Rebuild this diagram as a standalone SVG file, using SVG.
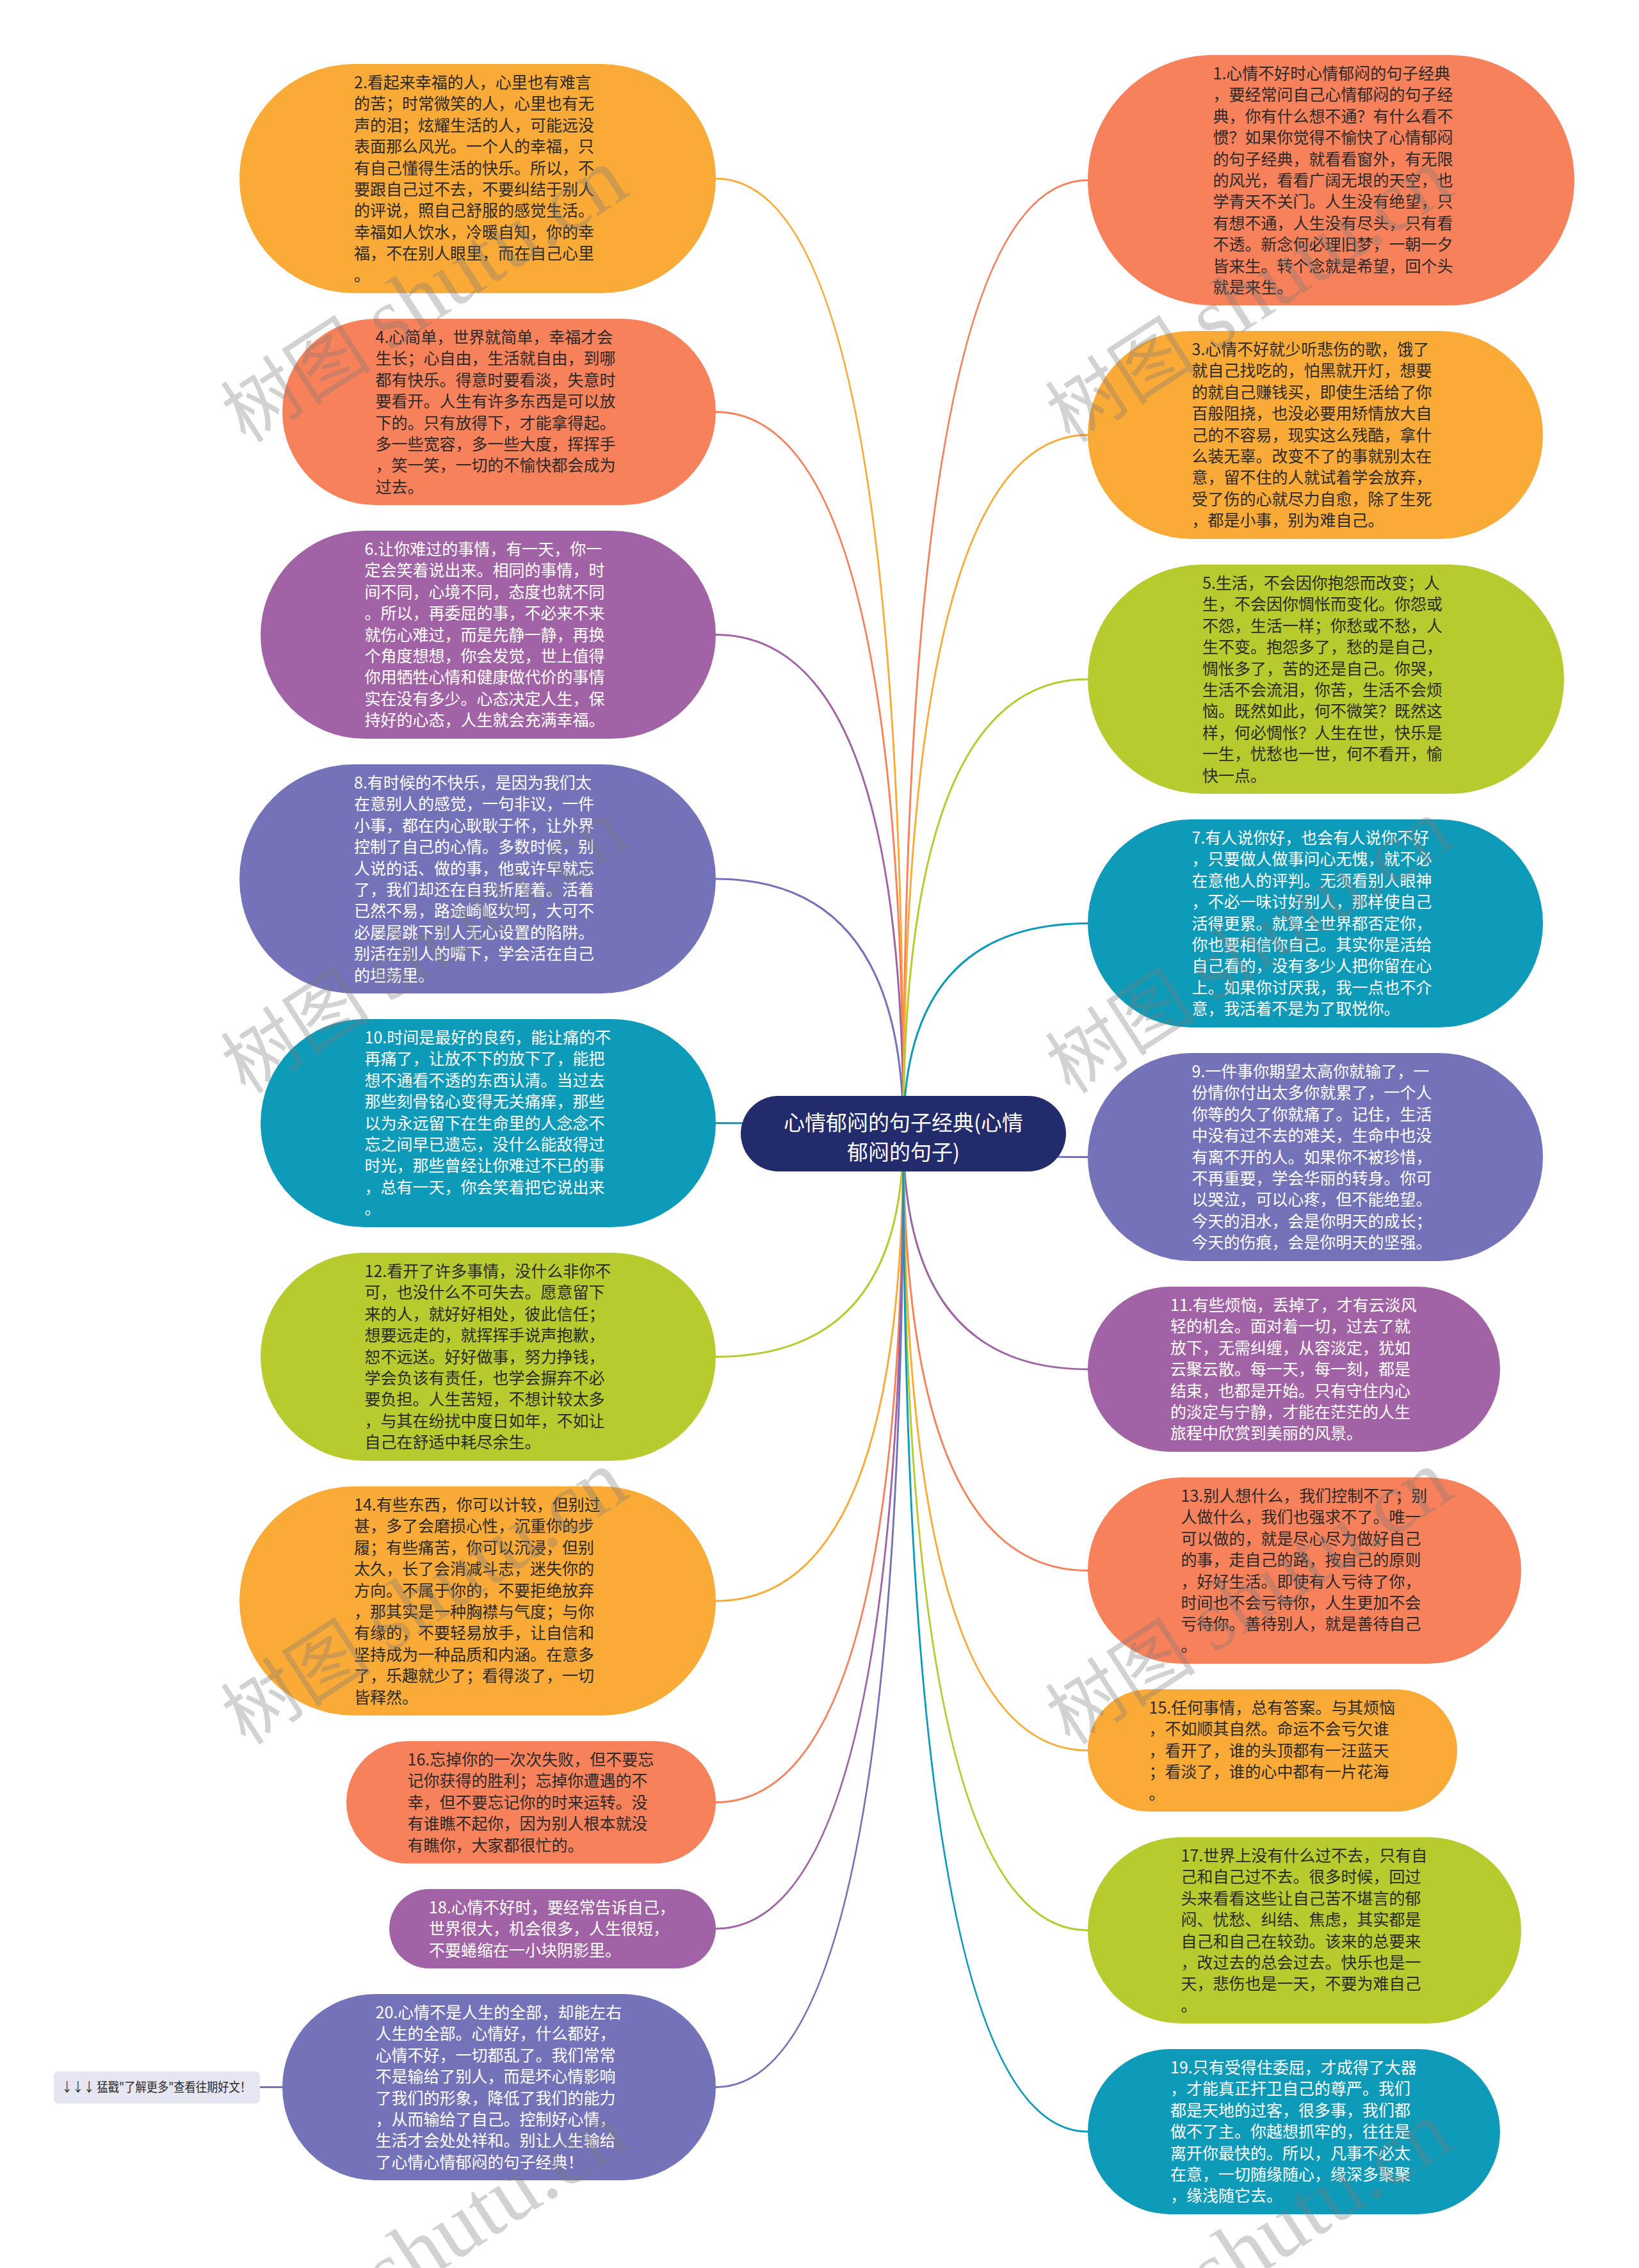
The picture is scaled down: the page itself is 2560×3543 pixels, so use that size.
<svg xmlns="http://www.w3.org/2000/svg" width="2560" height="3543" viewBox="0 0 2560 3543">
<style>
.t{font-family:"Noto Sans CJK SC","Noto Sans",sans-serif;font-size:25px}
.d{fill:#2a2a2a}
.w{fill:#ffffff}
.cn{fill:none;stroke-width:3}
.coral{fill:#F7815B}.yellow{fill:#FAAB37}.purple{fill:#A263A6}.indigo{fill:#7473B9}.teal{fill:#0D9BB9}.lime{fill:#B7CB2E}
.s-coral{stroke:#F7815B}.s-yellow{stroke:#FAAB37}.s-purple{stroke:#A263A6}.s-indigo{stroke:#7473B9}.s-teal{stroke:#0D9BB9}.s-lime{stroke:#B7CB2E}
.wm{font-family:"Liberation Serif","Noto Sans CJK SC",serif;font-size:118px;fill:#7a7a7a;opacity:0.33}
.wl{font-size:135px}
</style>
<rect x="0" y="0" width="2560" height="3543" fill="#ffffff"/>
<g id="connectors">
<path class="cn s-yellow" d="M1411,1771 Q1411,279 1118,279"/>
<path class="cn s-coral" d="M1411,1771 Q1411,643.5 1118,643.5"/>
<path class="cn s-purple" d="M1411,1771 Q1411,991.5 1118,991.5"/>
<path class="cn s-indigo" d="M1411,1771 Q1411,1373 1118,1373"/>
<path class="cn s-teal" d="M1411,1771 Q1411,1754.5 1118,1754.5"/>
<path class="cn s-lime" d="M1411,1771 Q1411,2119.5 1118,2119.5"/>
<path class="cn s-yellow" d="M1411,1771 Q1411,2501 1118,2501"/>
<path class="cn s-coral" d="M1411,1771 Q1411,2815.5 1118,2815.5"/>
<path class="cn s-purple" d="M1411,1771 Q1411,3013 1118,3013"/>
<path class="cn s-indigo" d="M1411,1771 Q1411,3260.5 1118,3260.5"/>
<path class="cn s-coral" d="M1411,1771 Q1411,281.5 1699,281.5"/>
<path class="cn s-yellow" d="M1411,1771 Q1411,679.5 1699,679.5"/>
<path class="cn s-lime" d="M1411,1771 Q1411,1061 1699,1061"/>
<path class="cn s-teal" d="M1411,1771 Q1411,1442.5 1699,1442.5"/>
<path class="cn s-indigo" d="M1411,1771 Q1411,1807.5 1699,1807.5"/>
<path class="cn s-purple" d="M1411,1771 Q1411,2139 1699,2139"/>
<path class="cn s-coral" d="M1411,1771 Q1411,2453.5 1699,2453.5"/>
<path class="cn s-yellow" d="M1411,1771 Q1411,2734.5 1699,2734.5"/>
<path class="cn s-lime" d="M1411,1771 Q1411,3015.5 1699,3015.5"/>
<path class="cn s-teal" d="M1411,1771 Q1411,3330 1699,3330"/>
<path class="cn s-indigo" d="M406,3260.5 L441,3260.5"/>
</g>
<g id="root">
<rect x="1157" y="1712" width="508" height="118" rx="59" fill="#222B6B"/>
<text x="1411" y="1766" text-anchor="middle" style="font-family:'Noto Sans CJK SC',sans-serif;font-size:33px" fill="#ffffff"><tspan x="1411">心情郁闷的句子经典(心情</tspan><tspan x="1411" dy="46">郁闷的句子)</tspan></text>
</g>
<g id="n2">
<rect class="yellow" x="374" y="100" width="744" height="358" rx="179"/>
<text class="t d" x="553" y="138"><tspan x="553">2.看起来幸福的人，心里也有难言</tspan><tspan x="553" dy="33.4">的苦；时常微笑的人，心里也有无</tspan><tspan x="553" dy="33.4">声的泪；炫耀生活的人，可能远没</tspan><tspan x="553" dy="33.4">表面那么风光。一个人的幸福，只</tspan><tspan x="553" dy="33.4">有自己懂得生活的快乐。所以，不</tspan><tspan x="553" dy="33.4">要跟自己过不去，不要纠结于别人</tspan><tspan x="553" dy="33.4">的评说，照自己舒服的感觉生活。</tspan><tspan x="553" dy="33.4">幸福如人饮水，冷暖自知，你的幸</tspan><tspan x="553" dy="33.4">福，不在别人眼里，而在自己心里</tspan><tspan x="553" dy="33.4">。</tspan></text>
</g>
<g id="n4">
<rect class="coral" x="441" y="498" width="677" height="291" rx="145.5"/>
<text class="t d" x="586.5" y="536"><tspan x="586.5">4.心简单，世界就简单，幸福才会</tspan><tspan x="586.5" dy="33.4">生长；心自由，生活就自由，到哪</tspan><tspan x="586.5" dy="33.4">都有快乐。得意时要看淡，失意时</tspan><tspan x="586.5" dy="33.4">要看开。人生有许多东西是可以放</tspan><tspan x="586.5" dy="33.4">下的。只有放得下，才能拿得起。</tspan><tspan x="586.5" dy="33.4">多一些宽容，多一些大度，挥挥手</tspan><tspan x="586.5" dy="33.4">，笑一笑，一切的不愉快都会成为</tspan><tspan x="586.5" dy="33.4">过去。</tspan></text>
</g>
<g id="n6">
<rect class="purple" x="407" y="829" width="711" height="325" rx="162.5"/>
<text class="t w" x="569.5" y="867"><tspan x="569.5">6.让你难过的事情，有一天，你一</tspan><tspan x="569.5" dy="33.4">定会笑着说出来。相同的事情，时</tspan><tspan x="569.5" dy="33.4">间不同，心境不同，态度也就不同</tspan><tspan x="569.5" dy="33.4">。所以，再委屈的事，不必来不来</tspan><tspan x="569.5" dy="33.4">就伤心难过，而是先静一静，再换</tspan><tspan x="569.5" dy="33.4">个角度想想，你会发觉，世上值得</tspan><tspan x="569.5" dy="33.4">你用牺牲心情和健康做代价的事情</tspan><tspan x="569.5" dy="33.4">实在没有多少。心态决定人生，保</tspan><tspan x="569.5" dy="33.4">持好的心态，人生就会充满幸福。</tspan></text>
</g>
<g id="n8">
<rect class="indigo" x="374" y="1194" width="744" height="358" rx="179"/>
<text class="t w" x="553" y="1232"><tspan x="553">8.有时候的不快乐，是因为我们太</tspan><tspan x="553" dy="33.4">在意别人的感觉，一句非议，一件</tspan><tspan x="553" dy="33.4">小事，都在内心耿耿于怀，让外界</tspan><tspan x="553" dy="33.4">控制了自己的心情。多数时候，别</tspan><tspan x="553" dy="33.4">人说的话、做的事，他或许早就忘</tspan><tspan x="553" dy="33.4">了，我们却还在自我折磨着。活着</tspan><tspan x="553" dy="33.4">已然不易，路途崎岖坎坷，大可不</tspan><tspan x="553" dy="33.4">必屡屡跳下别人无心设置的陷阱。</tspan><tspan x="553" dy="33.4">别活在别人的嘴下，学会活在自己</tspan><tspan x="553" dy="33.4">的坦荡里。</tspan></text>
</g>
<g id="n10">
<rect class="teal" x="407" y="1592" width="711" height="325" rx="162.5"/>
<text class="t w" x="569.5" y="1630"><tspan x="569.5">10.时间是最好的良药，能让痛的不</tspan><tspan x="569.5" dy="33.4">再痛了，让放不下的放下了，能把</tspan><tspan x="569.5" dy="33.4">想不通看不透的东西认清。当过去</tspan><tspan x="569.5" dy="33.4">那些刻骨铭心变得无关痛痒，那些</tspan><tspan x="569.5" dy="33.4">以为永远留下在生命里的人念念不</tspan><tspan x="569.5" dy="33.4">忘之间早已遗忘，没什么能敌得过</tspan><tspan x="569.5" dy="33.4">时光，那些曾经让你难过不已的事</tspan><tspan x="569.5" dy="33.4">，总有一天，你会笑着把它说出来</tspan><tspan x="569.5" dy="33.4">。</tspan></text>
</g>
<g id="n12">
<rect class="lime" x="407" y="1957" width="711" height="325" rx="162.5"/>
<text class="t d" x="569.5" y="1995"><tspan x="569.5">12.看开了许多事情，没什么非你不</tspan><tspan x="569.5" dy="33.4">可，也没什么不可失去。愿意留下</tspan><tspan x="569.5" dy="33.4">来的人，就好好相处，彼此信任；</tspan><tspan x="569.5" dy="33.4">想要远走的，就挥挥手说声抱歉，</tspan><tspan x="569.5" dy="33.4">恕不远送。好好做事，努力挣钱，</tspan><tspan x="569.5" dy="33.4">学会负该有责任，也学会摒弃不必</tspan><tspan x="569.5" dy="33.4">要负担。人生苦短，不想计较太多</tspan><tspan x="569.5" dy="33.4">，与其在纷扰中度日如年，不如让</tspan><tspan x="569.5" dy="33.4">自己在舒适中耗尽余生。</tspan></text>
</g>
<g id="n14">
<rect class="yellow" x="374" y="2322" width="744" height="358" rx="179"/>
<text class="t d" x="553" y="2360"><tspan x="553">14.有些东西，你可以计较，但别过</tspan><tspan x="553" dy="33.4">甚，多了会磨损心性，沉重你的步</tspan><tspan x="553" dy="33.4">履；有些痛苦，你可以沉浸，但别</tspan><tspan x="553" dy="33.4">太久，长了会消减斗志，迷失你的</tspan><tspan x="553" dy="33.4">方向。不属于你的，不要拒绝放弃</tspan><tspan x="553" dy="33.4">，那其实是一种胸襟与气度；与你</tspan><tspan x="553" dy="33.4">有缘的，不要轻易放手，让自信和</tspan><tspan x="553" dy="33.4">坚持成为一种品质和内涵。在意多</tspan><tspan x="553" dy="33.4">了，乐趣就少了；看得淡了，一切</tspan><tspan x="553" dy="33.4">皆释然。</tspan></text>
</g>
<g id="n16">
<rect class="coral" x="541" y="2720" width="577" height="191" rx="95.5"/>
<text class="t d" x="636.5" y="2758"><tspan x="636.5">16.忘掉你的一次次失败，但不要忘</tspan><tspan x="636.5" dy="33.4">记你获得的胜利；忘掉你遭遇的不</tspan><tspan x="636.5" dy="33.4">幸，但不要忘记你的时来运转。没</tspan><tspan x="636.5" dy="33.4">有谁瞧不起你，因为别人根本就没</tspan><tspan x="636.5" dy="33.4">有瞧你，大家都很忙的。</tspan></text>
</g>
<g id="n18">
<rect class="purple" x="608" y="2951" width="510" height="124" rx="62"/>
<text class="t w" x="670" y="2989"><tspan x="670">18.心情不好时，要经常告诉自己，</tspan><tspan x="670" dy="33.4">世界很大，机会很多，人生很短，</tspan><tspan x="670" dy="33.4">不要蜷缩在一小块阴影里。</tspan></text>
</g>
<g id="n20">
<rect class="indigo" x="441" y="3115" width="677" height="291" rx="145.5"/>
<text class="t w" x="586.5" y="3153"><tspan x="586.5">20.心情不是人生的全部，却能左右</tspan><tspan x="586.5" dy="33.4">人生的全部。心情好，什么都好，</tspan><tspan x="586.5" dy="33.4">心情不好，一切都乱了。我们常常</tspan><tspan x="586.5" dy="33.4">不是输给了别人，而是坏心情影响</tspan><tspan x="586.5" dy="33.4">了我们的形象，降低了我们的能力</tspan><tspan x="586.5" dy="33.4">，从而输给了自己。控制好心情，</tspan><tspan x="586.5" dy="33.4">生活才会处处祥和。别让人生输给</tspan><tspan x="586.5" dy="33.4">了心情心情郁闷的句子经典！</tspan></text>
</g>
<g id="label">
<rect x="84" y="3236" width="322" height="50" rx="7" fill="#E6E6F2"/>
<text x="96" y="3268" textLength="296" lengthAdjust="spacingAndGlyphs" style="font-family:'Noto Sans CJK SC',sans-serif;font-size:20px" fill="#2a2a2a">↓↓↓ 猛戳"了解更多"查看往期好文！</text>
</g>
<g id="n1">
<rect class="coral" x="1699" y="86" width="760" height="391" rx="195.5"/>
<text class="t d" x="1894.5" y="124"><tspan x="1894.5">1.心情不好时心情郁闷的句子经典</tspan><tspan x="1894.5" dy="33.4">，要经常问自己心情郁闷的句子经</tspan><tspan x="1894.5" dy="33.4">典，你有什么想不通？有什么看不</tspan><tspan x="1894.5" dy="33.4">惯？如果你觉得不愉快了心情郁闷</tspan><tspan x="1894.5" dy="33.4">的句子经典，就看看窗外，有无限</tspan><tspan x="1894.5" dy="33.4">的风光，看看广阔无垠的天空，也</tspan><tspan x="1894.5" dy="33.4">学青天不关门。人生没有绝望，只</tspan><tspan x="1894.5" dy="33.4">有想不通，人生没有尽头，只有看</tspan><tspan x="1894.5" dy="33.4">不透。新念何必理旧梦，一朝一夕</tspan><tspan x="1894.5" dy="33.4">皆来生。转个念就是希望，回个头</tspan><tspan x="1894.5" dy="33.4">就是来生。</tspan></text>
</g>
<g id="n3">
<rect class="yellow" x="1699" y="517" width="711" height="325" rx="162.5"/>
<text class="t d" x="1861.5" y="555"><tspan x="1861.5">3.心情不好就少听悲伤的歌，饿了</tspan><tspan x="1861.5" dy="33.4">就自己找吃的，怕黑就开灯，想要</tspan><tspan x="1861.5" dy="33.4">的就自己赚钱买，即使生活给了你</tspan><tspan x="1861.5" dy="33.4">百般阻挠，也没必要用矫情放大自</tspan><tspan x="1861.5" dy="33.4">己的不容易，现实这么残酷，拿什</tspan><tspan x="1861.5" dy="33.4">么装无辜。改变不了的事就别太在</tspan><tspan x="1861.5" dy="33.4">意，留不住的人就试着学会放弃，</tspan><tspan x="1861.5" dy="33.4">受了伤的心就尽力自愈，除了生死</tspan><tspan x="1861.5" dy="33.4">，都是小事，别为难自己。</tspan></text>
</g>
<g id="n5">
<rect class="lime" x="1699" y="882" width="744" height="358" rx="179"/>
<text class="t d" x="1878" y="920"><tspan x="1878">5.生活，不会因你抱怨而改变；人</tspan><tspan x="1878" dy="33.4">生，不会因你惆怅而变化。你怨或</tspan><tspan x="1878" dy="33.4">不怨，生活一样；你愁或不愁，人</tspan><tspan x="1878" dy="33.4">生不变。抱怨多了，愁的是自己，</tspan><tspan x="1878" dy="33.4">惆怅多了，苦的还是自己。你哭，</tspan><tspan x="1878" dy="33.4">生活不会流泪，你苦，生活不会烦</tspan><tspan x="1878" dy="33.4">恼。既然如此，何不微笑？既然这</tspan><tspan x="1878" dy="33.4">样，何必惆怅？人生在世，快乐是</tspan><tspan x="1878" dy="33.4">一生，忧愁也一世，何不看开，愉</tspan><tspan x="1878" dy="33.4">快一点。</tspan></text>
</g>
<g id="n7">
<rect class="teal" x="1699" y="1280" width="711" height="325" rx="162.5"/>
<text class="t w" x="1861.5" y="1318"><tspan x="1861.5">7.有人说你好，也会有人说你不好</tspan><tspan x="1861.5" dy="33.4">，只要做人做事问心无愧，就不必</tspan><tspan x="1861.5" dy="33.4">在意他人的评判。无须看别人眼神</tspan><tspan x="1861.5" dy="33.4">，不必一味讨好别人，那样使自己</tspan><tspan x="1861.5" dy="33.4">活得更累。就算全世界都否定你，</tspan><tspan x="1861.5" dy="33.4">你也要相信你自己。其实你是活给</tspan><tspan x="1861.5" dy="33.4">自己看的，没有多少人把你留在心</tspan><tspan x="1861.5" dy="33.4">上。如果你讨厌我，我一点也不介</tspan><tspan x="1861.5" dy="33.4">意，我活着不是为了取悦你。</tspan></text>
</g>
<g id="n9">
<rect class="indigo" x="1699" y="1645" width="711" height="325" rx="162.5"/>
<text class="t w" x="1861.5" y="1683"><tspan x="1861.5">9.一件事你期望太高你就输了，一</tspan><tspan x="1861.5" dy="33.4">份情你付出太多你就累了，一个人</tspan><tspan x="1861.5" dy="33.4">你等的久了你就痛了。记住，生活</tspan><tspan x="1861.5" dy="33.4">中没有过不去的难关，生命中也没</tspan><tspan x="1861.5" dy="33.4">有离不开的人。如果你不被珍惜，</tspan><tspan x="1861.5" dy="33.4">不再重要，学会华丽的转身。你可</tspan><tspan x="1861.5" dy="33.4">以哭泣，可以心疼，但不能绝望。</tspan><tspan x="1861.5" dy="33.4">今天的泪水，会是你明天的成长；</tspan><tspan x="1861.5" dy="33.4">今天的伤痕，会是你明天的坚强。</tspan></text>
</g>
<g id="n11">
<rect class="purple" x="1699" y="2010" width="644" height="258" rx="129"/>
<text class="t w" x="1828" y="2048"><tspan x="1828">11.有些烦恼，丢掉了，才有云淡风</tspan><tspan x="1828" dy="33.4">轻的机会。面对着一切，过去了就</tspan><tspan x="1828" dy="33.4">放下，无需纠缠，从容淡定，犹如</tspan><tspan x="1828" dy="33.4">云聚云散。每一天，每一刻，都是</tspan><tspan x="1828" dy="33.4">结束，也都是开始。只有守住内心</tspan><tspan x="1828" dy="33.4">的淡定与宁静，才能在茫茫的人生</tspan><tspan x="1828" dy="33.4">旅程中欣赏到美丽的风景。</tspan></text>
</g>
<g id="n13">
<rect class="coral" x="1699" y="2308" width="677" height="291" rx="145.5"/>
<text class="t d" x="1844.5" y="2346"><tspan x="1844.5">13.别人想什么，我们控制不了；别</tspan><tspan x="1844.5" dy="33.4">人做什么，我们也强求不了。唯一</tspan><tspan x="1844.5" dy="33.4">可以做的，就是尽心尽力做好自己</tspan><tspan x="1844.5" dy="33.4">的事，走自己的路，按自己的原则</tspan><tspan x="1844.5" dy="33.4">，好好生活。即使有人亏待了你，</tspan><tspan x="1844.5" dy="33.4">时间也不会亏待你，人生更加不会</tspan><tspan x="1844.5" dy="33.4">亏待你。善待别人，就是善待自己</tspan><tspan x="1844.5" dy="33.4">。</tspan></text>
</g>
<g id="n15">
<rect class="yellow" x="1699" y="2639" width="577" height="191" rx="95.5"/>
<text class="t d" x="1794.5" y="2677"><tspan x="1794.5">15.任何事情，总有答案。与其烦恼</tspan><tspan x="1794.5" dy="33.4">，不如顺其自然。命运不会亏欠谁</tspan><tspan x="1794.5" dy="33.4">，看开了，谁的头顶都有一汪蓝天</tspan><tspan x="1794.5" dy="33.4">；看淡了，谁的心中都有一片花海</tspan><tspan x="1794.5" dy="33.4">。</tspan></text>
</g>
<g id="n17">
<rect class="lime" x="1699" y="2870" width="677" height="291" rx="145.5"/>
<text class="t d" x="1844.5" y="2908"><tspan x="1844.5">17.世界上没有什么过不去，只有自</tspan><tspan x="1844.5" dy="33.4">己和自己过不去。很多时候，回过</tspan><tspan x="1844.5" dy="33.4">头来看看这些让自己苦不堪言的郁</tspan><tspan x="1844.5" dy="33.4">闷、忧愁、纠结、焦虑，其实都是</tspan><tspan x="1844.5" dy="33.4">自己和自己在较劲。该来的总要来</tspan><tspan x="1844.5" dy="33.4">，改过去的总会过去。快乐也是一</tspan><tspan x="1844.5" dy="33.4">天，悲伤也是一天，不要为难自己</tspan><tspan x="1844.5" dy="33.4">。</tspan></text>
</g>
<g id="n19">
<rect class="teal" x="1699" y="3201" width="644" height="258" rx="129"/>
<text class="t w" x="1828" y="3239"><tspan x="1828">19.只有受得住委屈，才成得了大器</tspan><tspan x="1828" dy="33.4">，才能真正扞卫自己的尊严。我们</tspan><tspan x="1828" dy="33.4">都是天地的过客，很多事，我们都</tspan><tspan x="1828" dy="33.4">做不了主。你越想抓牢的，往往是</tspan><tspan x="1828" dy="33.4">离开你最快的。所以，凡事不必太</tspan><tspan x="1828" dy="33.4">在意，一切随缘随心，缘深多聚聚</tspan><tspan x="1828" dy="33.4">，缘浅随它去。</tspan></text>
</g>
<g id="watermarks">
<text class="wm" transform="translate(384,694) rotate(-33)">树图 <tspan class="wl">shutu.cn</tspan></text>
<text class="wm" transform="translate(1672,694) rotate(-33)">树图 <tspan class="wl">shutu.cn</tspan></text>
<text class="wm" transform="translate(384,1711) rotate(-33)">树图 <tspan class="wl">shutu.cn</tspan></text>
<text class="wm" transform="translate(1672,1711) rotate(-33)">树图 <tspan class="wl">shutu.cn</tspan></text>
<text class="wm" transform="translate(384,2728) rotate(-33)">树图 <tspan class="wl">shutu.cn</tspan></text>
<text class="wm" transform="translate(1672,2728) rotate(-33)">树图 <tspan class="wl">shutu.cn</tspan></text>
<text class="wm" transform="translate(384,3745) rotate(-33)">树图 <tspan class="wl">shutu.cn</tspan></text>
<text class="wm" transform="translate(1672,3745) rotate(-33)">树图 <tspan class="wl">shutu.cn</tspan></text>
</g>
</svg>
